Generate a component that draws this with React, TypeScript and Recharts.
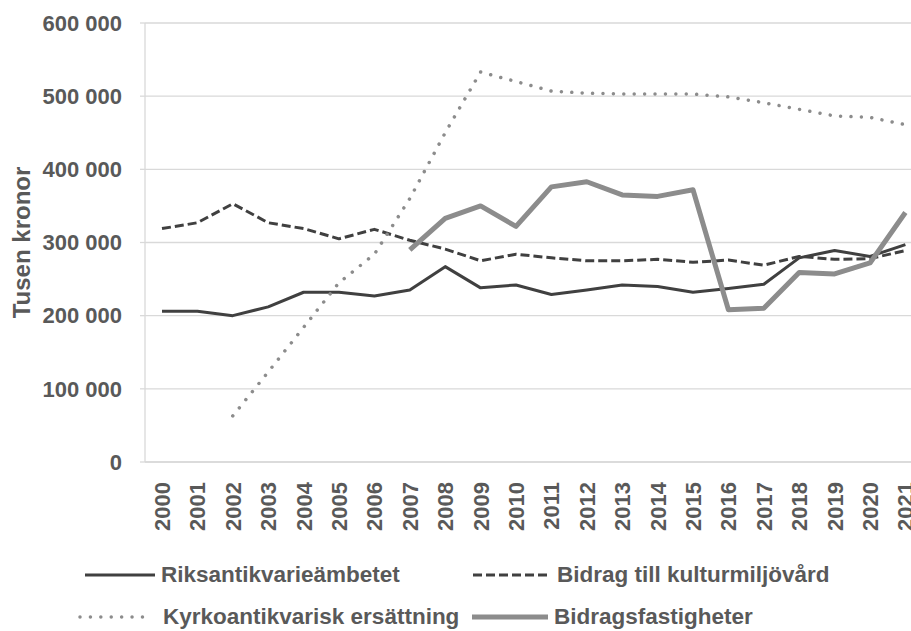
import React from 'react';
import { LineChart, Line, XAxis, YAxis, CartesianGrid } from 'recharts';

const years = ['2000','2001','2002','2003','2004','2005','2006','2007','2008','2009','2010','2011','2012','2013','2014','2015','2016','2017','2018','2019','2020','2021'];
const riksantikvarieambetet = [206000,206000,200000,212000,232000,232000,227000,235000,267000,238000,242000,229000,235000,242000,240000,232000,237000,243000,279000,289000,281000,297000];
const bidragKultur = [319000,327000,353000,327000,319000,305000,318000,303000,291000,275000,284000,279000,275000,275000,277000,273000,276000,269000,281000,277000,278000,289000];
const kyrkoantikvarisk = [null,null,63000,123000,184000,245000,284000,360000,450000,533000,520000,507000,504000,503000,503000,503000,499000,491000,482000,473000,471000,461000];
const bidragsfastigheter = [null,null,null,null,null,null,null,290000,333000,350000,322000,376000,383000,365000,363000,372000,208000,210000,259000,257000,272000,341000];
const yTicks = [0,100000,200000,300000,400000,500000,600000];

const seriesNames = ['Riksantikvarieämbetet','Bidrag till kulturmiljövård','Kyrkoantikvarisk ersättning','Bidragsfastigheter'];

const data = years.map((y, i) => ({
  year: y,
  rik: riksantikvarieambetet[i],
  bid: bidragKultur[i],
  kyr: kyrkoantikvarisk[i],
  fas: bidragsfastigheter[i],
}));

const FONT = '"Liberation Sans", Arial, sans-serif';
const TXT = '#595959';
const DARK = '#404040';
const GREY = '#8c8c8c';
const GRID = '#d9d9d9';

const fmt = (v: number) => String(v).replace(/\B(?=(\d{3})+(?!\d))/g, ' ');

const XTick = (props: any) => {
  const { x, y, payload } = props;
  return (
    <text x={x} y={y} transform={`rotate(-90, ${x}, ${y})`} textAnchor="end" dy="0.36em"
      fill={TXT} fontSize={22} fontWeight="bold" fontFamily={FONT}>{payload.value}</text>
  );
};

const YLabel = (props: any) => {
  const vb = props.viewBox || {};
  const cy = (vb.y || 0) + (vb.height || 0) / 2;
  return (
    <text x={21} y={cy} transform={`rotate(-90, 21, ${cy})`} textAnchor="middle" dy="0.36em"
      fill={TXT} fontSize={24} fontWeight="bold" fontFamily={FONT}>Tusen kronor</text>
  );
};

const LegendItem = ({ left, top, kind, label, w }: any) => {
  let line: any;
  if (kind === 0) line = <line x1={0} y1={6} x2={w} y2={6} stroke={DARK} strokeWidth={3} />;
  if (kind === 1) line = <line x1={0} y1={6} x2={w} y2={6} stroke={DARK} strokeWidth={3} strokeDasharray="9 4" />;
  if (kind === 2) line = <line x1={2} y1={6} x2={w} y2={6} stroke={GREY} strokeWidth={3.5} strokeDasharray="0.01 10.4" strokeLinecap="round" />;
  if (kind === 3) line = <line x1={0} y1={6} x2={w} y2={6} stroke={GREY} strokeWidth={5} strokeLinecap="round" />;
  return (
    <div style={{ position: 'absolute', left, top: top - 6, display: 'flex', alignItems: 'center', height: 12 }}>
      <svg width={w} height={12} style={{ display: 'block' }}>{line}</svg>
      <span style={{ marginLeft: kind === 2 ? 18 : 6, color: TXT, fontSize: 22.5, fontWeight: 'bold', fontFamily: FONT, whiteSpace: 'nowrap', lineHeight: '12px' }}>{label}</span>
    </div>
  );
};

export default function App() {
  return (
    <div style={{ position: 'fixed', left: 0, top: 0, width: 911, height: 631, overflow: 'hidden', background: '#fff' }}>
      <LineChart width={935} height={631} data={data} margin={{ top: 23, right: 11, left: 0, bottom: 99 }}>
        <CartesianGrid horizontal vertical={false} stroke={GRID} strokeWidth={1.3} />
        <XAxis dataKey="year" interval={0} height={70} axisLine={{ stroke: GRID, strokeWidth: 1.3 }} tickLine={false}
          tick={<XTick />} tickMargin={14} padding={{ left: 17, right: 18.6 }} />
        <YAxis width={145} domain={[0, 600000]} ticks={yTicks} tickFormatter={fmt} interval={0}
          axisLine={{ stroke: GRID, strokeWidth: 1.3 }} tickLine={{ stroke: GRID, strokeWidth: 1.3 }} tickSize={5} tickMargin={18}
          tick={{ fill: TXT, fontSize: 22, fontWeight: 'bold', fontFamily: FONT }}
          label={<YLabel />} />
        <Line dataKey="rik" name={seriesNames[0]} stroke={DARK} strokeWidth={3} dot={false} isAnimationActive={false} strokeLinejoin="round" />
        <Line dataKey="bid" name={seriesNames[1]} stroke={DARK} strokeWidth={3} strokeDasharray="9 4" dot={false} isAnimationActive={false} strokeLinejoin="round" />
        <Line dataKey="kyr" name={seriesNames[2]} stroke={GREY} strokeWidth={3.5} strokeDasharray="0.01 10.4" strokeLinecap="round" dot={false} isAnimationActive={false} />
        <Line dataKey="fas" name={seriesNames[3]} stroke={GREY} strokeWidth={5} dot={false} isAnimationActive={false} strokeLinejoin="round" />
      </LineChart>
      <LegendItem left={85} top={575} kind={0} w={70} label={seriesNames[0]} />
      <LegendItem left={473} top={575} kind={1} w={78} label={seriesNames[1]} />
      <LegendItem left={78} top={617} kind={2} w={67} label={seriesNames[2]} />
      <LegendItem left={472} top={617} kind={3} w={76} label={seriesNames[3]} />
    </div>
  );
}
